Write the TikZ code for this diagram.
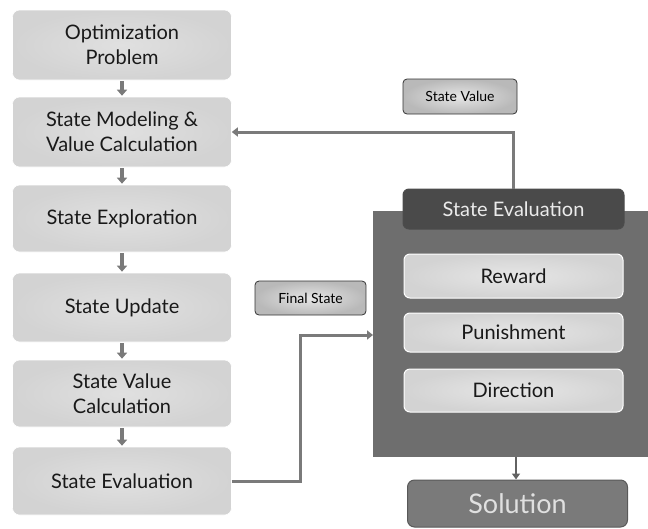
\documentclass[tikz,border=0pt]{standalone}
\usepackage{fontspec}
\setmainfont{Lato}
\usetikzlibrary{arrows.meta,positioning}
\definecolor{boxfill}{HTML}{D3D3D3}
\definecolor{boxin}{HTML}{E0E0E0}
\definecolor{linec}{HTML}{7A7A7A}
\definecolor{panel}{HTML}{6E6E6E}
\definecolor{header}{HTML}{4A4A4A}
\definecolor{solfill}{HTML}{7A7A7A}
\tikzset{
  lbox/.style={draw=white, line width=0.6pt, rounded corners=7pt, inner color=boxin, outer color=boxfill,
    minimum width=219pt, align=center, font=\fontsize{20}{25}\selectfont, text=black!90},
  ibox/.style={draw=white, line width=1pt, rounded corners=6pt, inner color=boxin!80!white, outer color=boxfill,
    minimum width=219pt, align=center, font=\fontsize{20}{24}\selectfont, text=black!90},
  tagbox/.style={draw=black!80, line width=0.8pt, rounded corners=4pt, inner color=gray!20, outer color=gray!55,
    align=center, font=\fontsize{14}{16}\selectfont, text=black},
  conn/.style={draw=linec, line width=3pt, -{Triangle[width=9pt,length=6pt]}},
  darr/.style={draw=linec, line width=3.5pt, -{Triangle[width=10pt,length=6pt]}, shorten >=1pt, shorten <=1pt}
}
\begin{document}
\begin{tikzpicture}[x=1pt,y=-1pt]
\useasboundingbox (0,0) rectangle (648,528);
% left column
\node[lbox, minimum height=70pt] (b1) at (122,45) {Optimization\\Problem};
\node[lbox, minimum height=70pt] (b2) at (122,132) {State Modeling \&\\Value Calculation};
\node[lbox, minimum height=67pt] (b3) at (122,218.5) {State Exploration};
\node[lbox, minimum height=69pt] (b4) at (122,307.5) {State Update};
\node[lbox, minimum height=67pt] (b5) at (122,393.5) {State Value\\Calculation};
\node[lbox, minimum height=68pt] (b6) at (122,481) {State Evaluation};
\draw[darr] (b1.south) -- (b2.north);
\draw[darr] (b2.south) -- (b3.north);
\draw[darr] (b3.south) -- (b4.north);
\draw[darr] (b4.south) -- (b5.north);
\draw[darr] (b5.south) -- (b6.north);
% right panel
\fill[panel] (373,211) rectangle (648,457);
\coordinate (panelleft) at (373,335);
\node[draw=black!70, line width=1pt, fill=header, rounded corners=6pt, minimum width=221pt, minimum height=40pt,
  text=white!92!black, font=\fontsize{20}{24}\selectfont] (hdr) at (513.5,209) {State Evaluation};
\node[ibox, minimum height=44pt] (rew) at (513.5,276) {Reward};
\node[ibox, minimum height=39pt] (pun) at (513.5,332.5) {Punishment};
\node[ibox, minimum height=43pt] (dir) at (513.5,390.5) {Direction};
\node[draw=black!65, line width=1pt, fill=solfill, rounded corners=7pt, minimum width=220pt, minimum height=47pt,
  text=white!88!black, font=\fontsize{27}{30}\selectfont] (sol) at (517.5,503.5) {Solution};
\coordinate (panelbot) at (516,457);
\draw[draw=linec!80!black, line width=2pt, -{Triangle[width=8pt,length=6pt]}] (panelbot) -- (panelbot |- sol.north);
% tags
\node[tagbox, minimum width=114pt, minimum height=35pt] (sv) at (460,96.5) {State Value};
\node[tagbox, minimum width=111pt, minimum height=34pt] (fs) at (310.5,298) {Final State};
% connectors
\draw[conn] (hdr.north -| 513,0) -- (513,132) -- (b2.east);
\draw[conn] (b6.east) -- (300,481) -- (300,335) -- (panelleft);
\end{tikzpicture}
\end{document}
